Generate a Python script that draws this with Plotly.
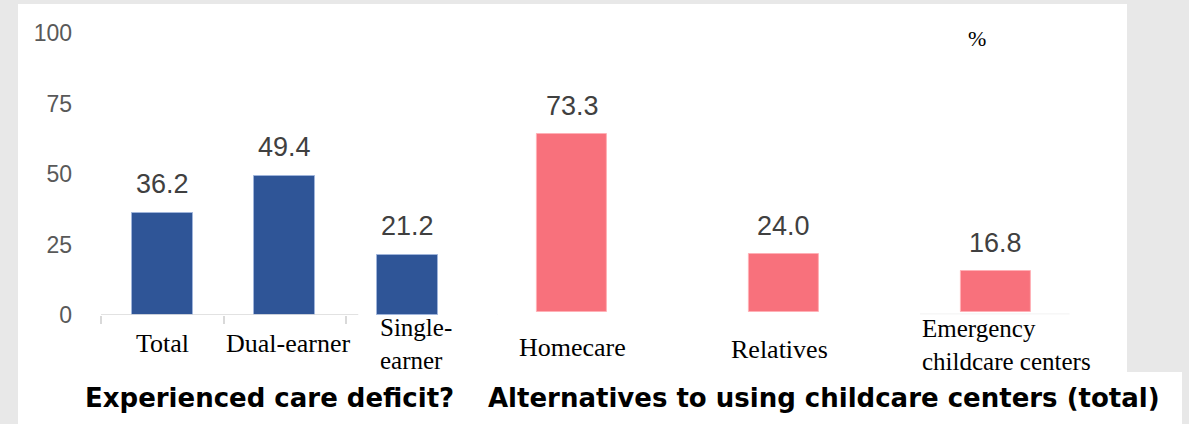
import plotly.graph_objects as go

# ---- data -------------------------------------------------------------
deficit_categories = ["Total", "Dual-earner", "Single-earner"]
deficit_values = [36.2, 49.4, 21.2]

alt_categories = ["Homecare", "Relatives", "Emergency childcare centers"]
alt_values = [73.3, 24.0, 16.8]

y_ticks = [0, 25, 50, 75, 100]

deficit_title = "Experienced care deficit?"
alt_title = "Alternatives to using childcare centers (total)"
unit_label = "%"

# ---- styling ----------------------------------------------------------
W, H = 1189, 424
BLUE = "#2f5597"
PINK = "#f8717c"
AXIS_GREY = "#d9d9d9"
BG_GREY = "#e8e8e8"
SERIF = "Liberation Serif, Times New Roman, serif"
SANS = "Liberation Sans, Arial, sans-serif"
HEAVY = "DejaVu Sans, sans-serif"


def px(x):
    return x / W


def py(y):
    return 1 - y / H


fig = go.Figure()

fig.add_bar(
    x=list(range(len(deficit_values))), y=deficit_values,
    hovertext=deficit_categories, width=0.5,
    marker=dict(color=BLUE, line=dict(color="#9fb4da", width=1)),
    xaxis="x", yaxis="y", showlegend=False,
)
fig.add_bar(
    x=list(range(len(alt_values))), y=alt_values,
    hovertext=alt_categories, width=0.33,
    marker=dict(color=PINK, line=dict(color="#ffb0b6", width=1)),
    xaxis="x2", yaxis="y2", showlegend=False,
)

annotations = []

# value labels above each bar
for i, v in enumerate(deficit_values):
    annotations.append(dict(
        x=i, y=v, xref="x", yref="y", text=f"{v:.1f}", showarrow=False,
        xanchor="center", yanchor="middle", yshift=29,
        font=dict(family=SANS, size=27, color="#404040"),
    ))
for i, v in enumerate(alt_values):
    annotations.append(dict(
        x=i, y=v, xref="x2", yref="y2", text=f"{v:.1f}", showarrow=False,
        xanchor="center", yanchor="middle", yshift=28,
        font=dict(family=SANS, size=27, color="#404040"),
    ))

cat_font = dict(family=SERIF, size=26, color="black")
cat_font_2line = dict(family=SERIF, size=25, color="black")

# category labels, left panel
annotations += [
    dict(x=0, y=py(343), xref="x", yref="paper", text="Total",
         showarrow=False, xanchor="center", yanchor="middle", font=cat_font),
    dict(x=1, y=py(343), xref="x", yref="paper", text="Dual-earner", xshift=3,
         showarrow=False, xanchor="center", yanchor="middle", font=cat_font),
    dict(x=1.761, y=py(343.5), xref="x", yref="paper", text="Single-<br>earner",
         showarrow=False, xanchor="left", yanchor="middle", align="left",
         font=cat_font_2line),
]
# category labels, right panel
annotations += [
    dict(x=0, y=py(347), xref="x2", yref="paper", text="Homecare",
         showarrow=False, xanchor="center", yanchor="middle", font=cat_font),
    dict(x=1, y=py(349), xref="x2", yref="paper", text="Relatives", xshift=-4,
         showarrow=False, xanchor="center", yanchor="middle", font=cat_font),
    dict(x=1.643, y=py(345), xref="x2", yref="paper",
         text="Emergency<br>childcare centers",
         showarrow=False, xanchor="left", yanchor="middle", align="left",
         font=cat_font_2line),
]

# unit marker and panel captions
annotations += [
    dict(x=px(977), y=py(39), xref="paper", yref="paper", text=unit_label,
         showarrow=False, xanchor="center", yanchor="middle",
         font=dict(family=SERIF, size=22, color="black")),
    dict(x=px(269), y=py(398), xref="paper", yref="paper", text=deficit_title,
         showarrow=False, xanchor="center", yanchor="middle",
         font=dict(family=HEAVY, size=26, color="black", weight="bold")),
    dict(x=px(824), y=py(398), xref="paper", yref="paper", text=alt_title,
         showarrow=False, xanchor="center", yanchor="middle",
         font=dict(family=HEAVY, size=26, color="black", weight="bold")),
]

shapes = [
    # white canvas areas
    dict(type="rect", xref="paper", yref="paper", x0=px(18), x1=px(1127),
         y0=py(372), y1=py(4), fillcolor="white", line=dict(width=0), layer="below"),
    dict(type="rect", xref="paper", yref="paper", x0=px(18), x1=px(1182),
         y0=0, y1=py(372), fillcolor="white", line=dict(width=0), layer="below"),
    # baseline of the left panel
    dict(type="line", xref="x", yref="y", x0=-0.5, x1=1.6, y0=0, y1=0,
         line=dict(color=AXIS_GREY, width=1.5)),
    # remnants of the right panel baseline
    dict(type="line", xref="x2", yref="y", x0=-0.378, x1=-0.35, y0=0, y1=0,
         line=dict(color=AXIS_GREY, width=2)),
    dict(type="line", xref="x2", yref="y2", x0=1.643, x1=2.503, y0=-0.8, y1=-0.8,
         line=dict(color="#f2f2f2", width=1)),
]

y_domain = [py(315), py(33)]

fig.update_layout(
    width=W, height=H,
    margin=dict(l=0, r=0, t=0, b=0, pad=0, autoexpand=False),
    paper_bgcolor=BG_GREY,
    plot_bgcolor="rgba(0,0,0,0)",
    bargap=0,
    xaxis=dict(
        domain=[px(101), px(468.5)], range=[-0.5, 2.5], anchor="y",
        tickvals=[-0.5, 0.5, 1.5], ticks="outside", ticklen=8, tickwidth=1.5,
        tickcolor=AXIS_GREY, showticklabels=False, showgrid=False,
        zeroline=False, showline=False, fixedrange=True,
    ),
    yaxis=dict(
        domain=y_domain, range=[0, 100], anchor="x",
        tickvals=y_ticks, ticks="", showgrid=False, zeroline=False,
        showline=False, ticklabelstandoff=28,
        tickfont=dict(family=SANS, size=23, color="#595959"),
    ),
    xaxis2=dict(
        domain=[px(497.9), px(1069.6)], range=[-0.35, 2.35], anchor="y2",
        visible=False, fixedrange=True,
    ),
    yaxis2=dict(
        domain=y_domain, range=[-1.24, 114.9], anchor="x2", visible=False,
    ),
    annotations=annotations,
    shapes=shapes,
)

fig.write_html("out.html")
